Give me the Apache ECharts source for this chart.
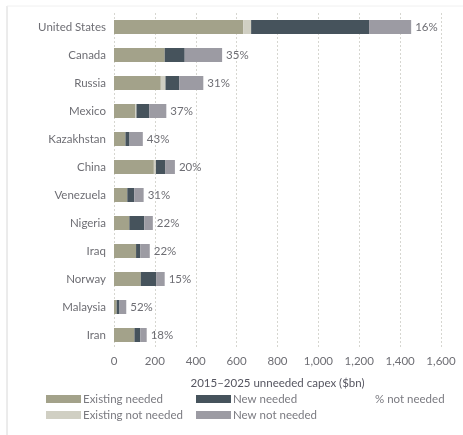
<!DOCTYPE html>
<html><head><meta charset="utf-8">
<script src="https://cdn.jsdelivr.net/npm/echarts@6/dist/echarts.min.js"></script>
<style>html,body{margin:0;padding:0;background:#fff}#c{width:463px;height:435px}</style>
</head><body><div id="c"></div>
<script>
const countries = ['United States','Canada','Russia','Mexico','Kazakhstan','China','Venezuela','Nigeria','Iraq','Norway','Malaysia','Iran'];
const existingNeeded    = [632, 248, 229, 105, 56, 195, 65, 75, 108, 131, 13, 100];
const existingNotNeeded = [39,   0,  23,   5,  0,  10,  0,  0,   0,   0,  0,   0];
const newNeeded         = [577,  98, 67,  62, 20,  45, 34, 73,  21,  75, 14,  29];
const newNotNeeded      = [206, 183, 118, 84, 65,  48, 46, 42,  46,  42, 33,  31];
const pctNotNeeded      = ['16%','35%','31%','37%','43%','20%','31%','22%','22%','15%','52%','18%'];
const xTicks = [0, 200, 400, 600, 800, 1000, 1200, 1400, 1600];

const chart = echarts.init(document.getElementById('c'));
const font = 'Lato, "Open Sans", sans-serif';
const colors = ['#a3a28a', '#d0cfc3', '#46535c', '#9c9ba3'];
const names = ['Existing needed', 'Existing not needed', 'New needed', 'New not needed'];
const datas = [existingNeeded, existingNotNeeded, newNeeded, newNotNeeded];

const series = datas.map((d, i) => ({
  name: names[i], type: 'bar', stack: 'a', barWidth: 14,
  itemStyle: { color: colors[i] },
  data: d,
  label: i === 3 ? {
    show: true, position: 'right', distance: 4,
    formatter: p => pctNotNeeded[p.dataIndex],
    color: '#6e6e74', fontSize: 11.5, fontFamily: font
  } : { show: false }
}));

const legendText = { color: '#7a7a80', fontSize: 11.5, fontFamily: font, padding: [0, 0, 0, -3] };

chart.setOption({
  animation: false,
  textStyle: { fontFamily: font },
  grid: { left: 114, right: 22, top: 13, height: 336 },
  xAxis: {
    type: 'value', min: xTicks[0], max: xTicks[xTicks.length - 1], interval: xTicks[1] - xTicks[0],
    axisLine: { show: false }, axisTick: { show: false },
    splitLine: { show: true, lineStyle: { color: '#d6d6d0', type: [2, 2], width: 1 } },
    axisLabel: { color: '#6e6e74', fontSize: 11.5, margin: 6, fontFamily: font,
      formatter: v => v.toLocaleString('en-US') },
    name: '2015–2025 unneeded capex ($bn)', nameLocation: 'middle', nameGap: 28,
    nameTextStyle: { color: '#555560', fontSize: 11.5, fontFamily: font }
  },
  yAxis: {
    type: 'category', data: countries, inverse: true,
    axisLine: { show: false }, axisTick: { show: false },
    axisLabel: { color: '#6e6e74', fontSize: 11.5, margin: 8, fontFamily: font }
  },
  legend: [
    { data: [names[0], names[1]], orient: 'vertical', left: 41, top: 388, itemWidth: 35, itemHeight: 8,
      itemGap: 4, icon: 'rect', textStyle: legendText },
    { data: [names[2], names[3]], orient: 'vertical', left: 191, top: 388, itemWidth: 35, itemHeight: 8,
      itemGap: 4, icon: 'rect', textStyle: legendText }
  ],
  graphic: [
    { type: 'text', left: 375, top: 393, style: { text: '% not needed', fill: '#7a7a80', font: '11.5px ' + font } },
    { type: 'line', shape: { x1: 7, y1: 6, x2: 7, y2: 435 }, style: { stroke: '#d8d8d8', lineWidth: 1 } },
    { type: 'line', shape: { x1: 7, y1: 6, x2: 463, y2: 6 }, style: { stroke: '#f0f0f0', lineWidth: 1 } }
  ],
  series: series
});
</script></body></html>
